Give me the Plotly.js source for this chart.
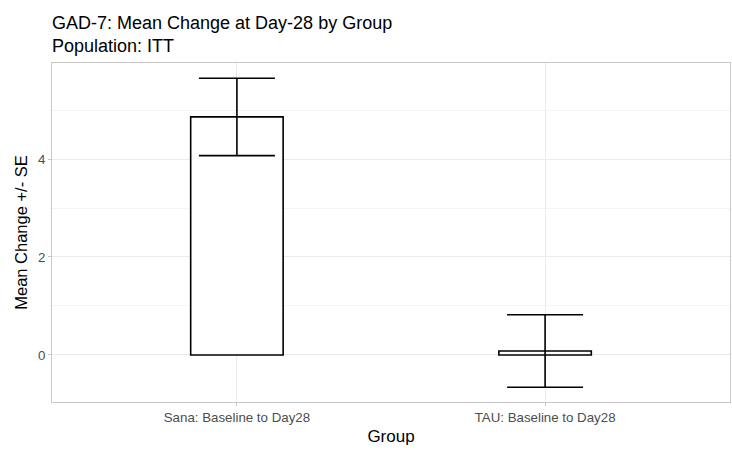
<!DOCTYPE html>
<html>
<head>
<script src="https://cdn.plot.ly/plotly-3.0.1.min.js"></script>
<style>body{margin:0;padding:0;background:#fff;}#chart{width:732px;height:450px;}</style>
</head>
<body>
<div id="chart"></div>
<script>
const groups = ["Sana: Baseline to Day28", "TAU: Baseline to Day28"];
const meanChange = [4.86, 0.08];
const stdErr = [0.79, 0.74];

const trace = {
  type: "bar",
  x: groups,
  y: meanChange,
  width: 0.3,
  marker: {color: "#ffffff", line: {color: "#000000", width: 1.6}},
  error_y: {type: "data", array: stdErr, visible: true, color: "#000000", thickness: 1.6, width: 38},
  hoverinfo: "x+y"
};

const layout = {
  width: 732, height: 450,
  margin: {l: 52, r: 2, t: 63, b: 48},
  paper_bgcolor: "#ffffff", plot_bgcolor: "#ffffff",
  font: {family: "Liberation Sans, Arial, sans-serif", color: "#000"},
  title: {text: "GAD-7: Mean Change at Day-28 by Group<br>Population: ITT", x: 52/732, xanchor: "left", xref: "container", yref: "container", y: 1 - 29/450, yanchor: "top", font: {size: 18, color: "#000"}},
  showlegend: false,
  bargap: 0,
  xaxis: {
    type: "category", range: [-0.6, 1.6],
    showline: true, mirror: true, linecolor: "#c8c8c8", linewidth: 1,
    showgrid: true, gridcolor: "#ebebeb", gridwidth: 1,
    ticks: "outside", ticklen: 3, tickcolor: "#c8c8c8",
    tickfont: {size: 13.3, color: "#4d4d4d"},
    title: {text: "Group", font: {size: 17, color: "#000"}, standoff: 6},
    zeroline: false
  },
  yaxis: {
    range: [-0.96, 5.96],
    tickvals: [0, 2, 4], ticktext: ["0", "2", "4"],
    showline: true, mirror: true, linecolor: "#c8c8c8", linewidth: 1,
    showgrid: true, gridcolor: "#ebebeb", gridwidth: 1,
    minor: {tickvals: [1, 3, 5], showgrid: true, gridcolor: "#f4f4f4", gridwidth: 1},
    ticks: "outside", ticklen: 3, tickcolor: "#c8c8c8",
    tickfont: {size: 13.3, color: "#4d4d4d"},
    title: {text: "Mean Change +/- SE", font: {size: 16.5, color: "#000"}, standoff: 6},
    zeroline: false
  }
};

Plotly.newPlot("chart", [trace], layout, {displayModeBar: false, staticPlot: true});
</script>
</body>
</html>
